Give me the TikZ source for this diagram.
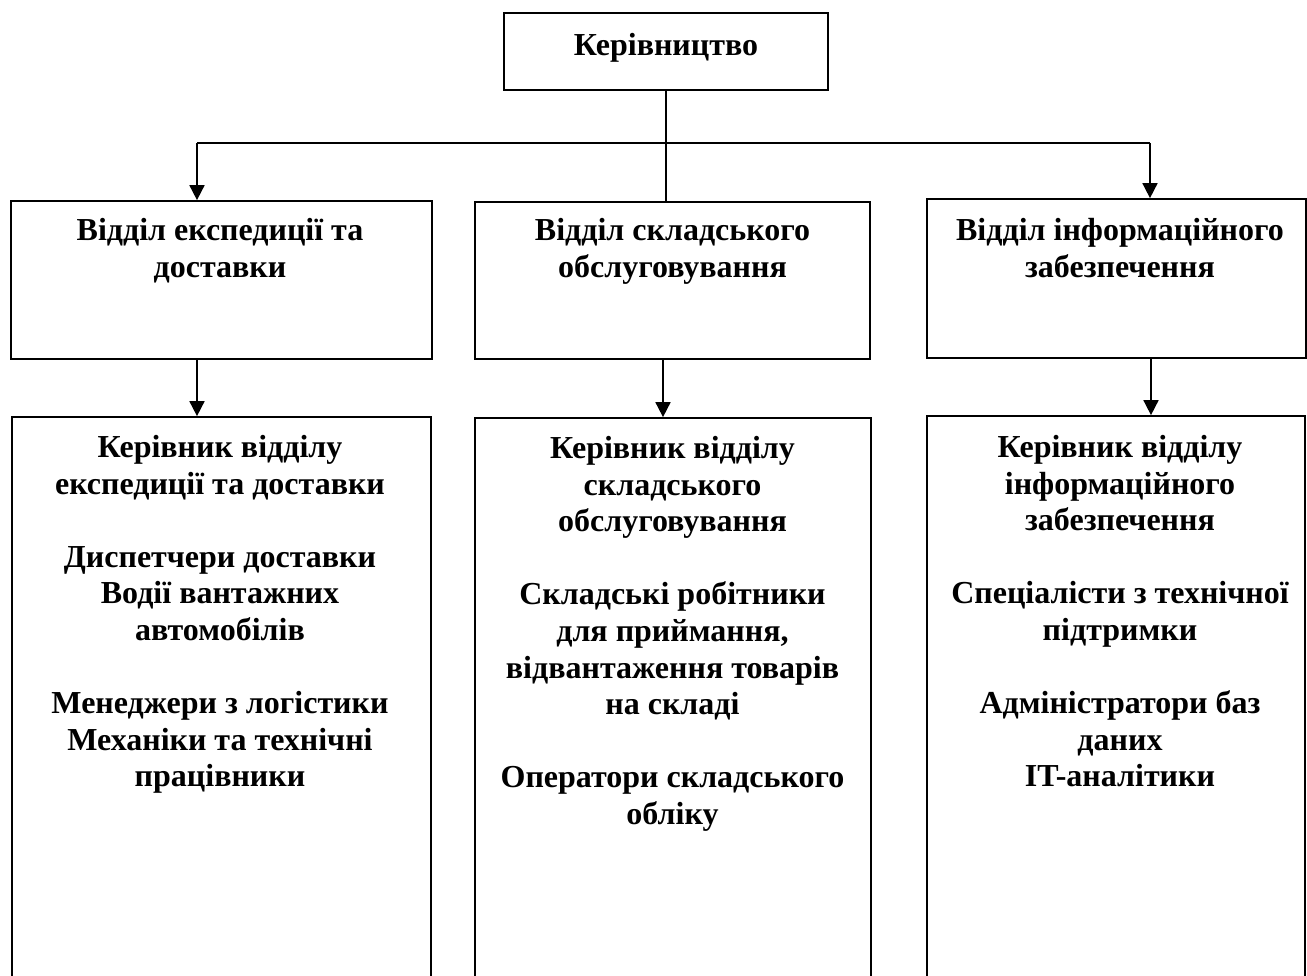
\documentclass[tikz,border=0pt]{standalone}
\usepackage{fontspec}
\setmainfont{Liberation Serif}
\usetikzlibrary{arrows.meta}
\begin{document}
\begin{tikzpicture}[x=1pt,y=-1pt,
  box/.style={draw,line width=1.7pt,rectangle,inner sep=0pt},
  lbl/.style={anchor=north,align=center,inner sep=0pt,font=\fontsize{32}{36.6}\selectfont\bfseries},
  ln/.style={line width=1.7pt},
  arr/.style={line width=1.7pt,-{Triangle[width=15pt,length=15pt]}}]
\useasboundingbox (0,0) rectangle (1307,976);
% boxes
\node[box,minimum width=324pt,minimum height=77pt] (top) at (666,51.5) {};
\node[box,minimum width=421pt,minimum height=158pt] (left) at (221.5,280) {};
\node[box,minimum width=395pt,minimum height=157pt] (mid) at (672.5,280.5) {};
\node[box,minimum width=379pt,minimum height=159pt] (right) at (1116.5,278.5) {};
\node[box,minimum width=419pt,minimum height=600pt] (lleft) at (221.5,717) {};
\node[box,minimum width=396pt,minimum height=600pt] (lmid) at (673,718) {};
\node[box,minimum width=378pt,minimum height=600pt] (lright) at (1116,716) {};
% texts
\node[lbl] (ttop) at (666,33) {Керівництво};
\node[lbl] (tleft) at (220,218) {Відділ експедиції та\\доставки};
\node[lbl] (tmid) at (672.5,218) {Відділ складського\\обслуговування};
\node[lbl] (tright) at (1120,218) {Відділ інформаційного\\забезпечення};
\node[lbl] (tlleft) at (220,435) {Керівник відділу\\експедиції та доставки\\[36.6pt]Диспетчери доставки\\Водії вантажних\\автомобілів\\[36.6pt]Менеджери з логістики\\Механіки та технічні\\працівники};
\node[lbl] (tlmid) at (672.5,436) {Керівник відділу\\складського\\обслуговування\\[36.6pt]Складські робітники\\для приймання,\\відвантаження товарів\\на складі\\[36.6pt]Оператори складського\\обліку};
\node[lbl] (tlright) at (1120,435) {Керівник відділу\\інформаційного\\забезпечення\\[36.6pt]Спеціалісти з технічної\\підтримки\\[36.6pt]Адміністратори баз\\даних\\IT-аналітики};
% connectors
\coordinate (bl) at (197,143);
\coordinate (br) at (1150,143);
\coordinate (bm) at (666,143);
\draw[ln] (top.south) -- (top.south |- mid.north);
\draw[ln] (bl) -- (br);
\draw[arr] (bl) -- (bl |- left.north);
\draw[arr] (br) -- (br |- right.north);
\draw[arr] (bl |- left.south) -- (bl |- lleft.north);
\coordinate (mx) at (663,0);
\draw[arr] (mx |- mid.south) -- (mx |- lmid.north);
\coordinate (rx) at (1151,0);
\draw[arr] (rx |- right.south) -- (rx |- lright.north);
\end{tikzpicture}
\end{document}
